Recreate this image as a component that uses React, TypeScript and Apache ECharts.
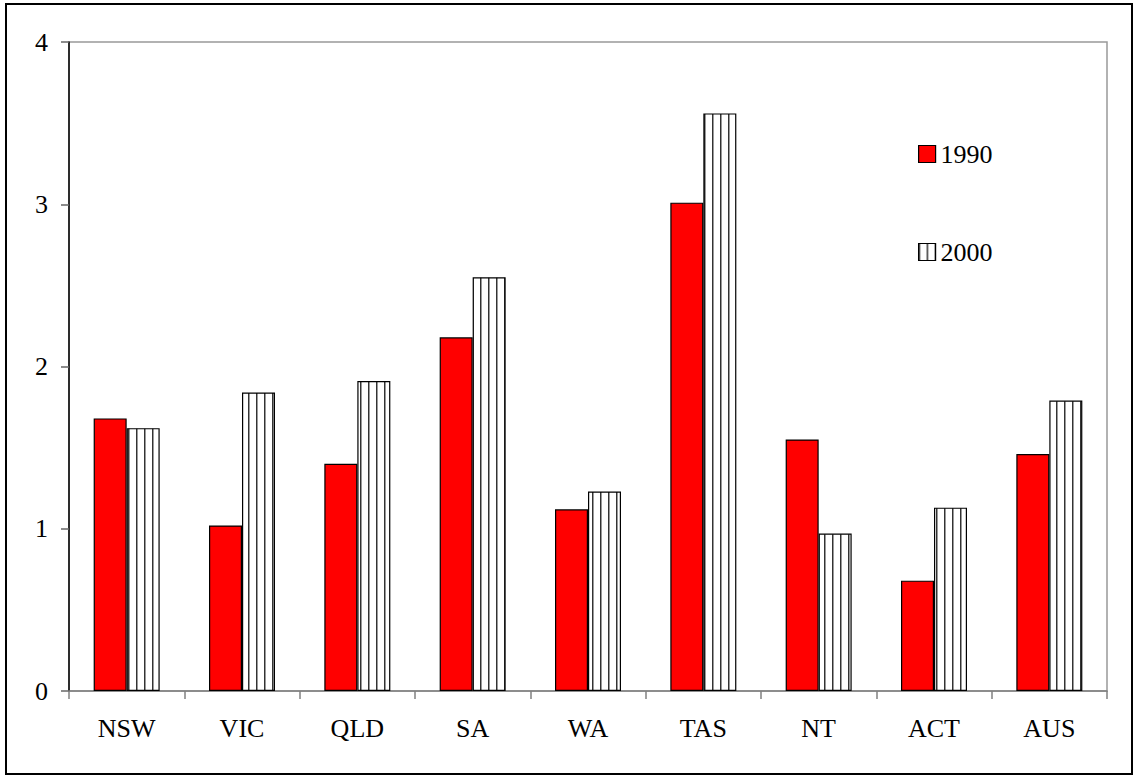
import React, { useEffect, useRef } from "react";
import * as echarts from "echarts";

const categories = ["NSW", "VIC", "QLD", "SA", "WA", "TAS", "NT", "ACT", "AUS"];
const values1990 = [1.68, 1.02, 1.4, 2.18, 1.12, 3.01, 1.55, 0.68, 1.46];
const values2000 = [1.62, 1.84, 1.91, 2.55, 1.23, 3.56, 0.97, 1.13, 1.79];
const seriesNames = ["1990", "2000"];
const yTicks = { min: 0, max: 4, interval: 1 };

const FONT = "Liberation Serif, Times New Roman, serif";

function makeStripePattern() {
  const c = document.createElement("canvas");
  c.width = 8;
  c.height = 8;
  const ctx = c.getContext("2d")!;
  ctx.fillStyle = "#ffffff";
  ctx.fillRect(0, 0, 8, 8);
  ctx.fillStyle = "#333333";
  ctx.fillRect(0, 0, 1, 8);
  ctx.fillStyle = "#999999";
  ctx.fillRect(1, 0, 1, 8);
  return { image: c, repeat: "repeat", imageWidth: 8, imageHeight: 8 } as any;
}

export default function App() {
  const ref = useRef<HTMLDivElement>(null);
  useEffect(() => {
    if (!ref.current) return;
    const chart = echarts.init(ref.current, undefined, { renderer: "svg" });
    const stripe = makeStripePattern();
    chart.setOption({
      animation: false,
      backgroundColor: "#ffffff",
      textStyle: { fontFamily: FONT },
      grid: {
        left: 69,
        right: 28,
        top: 42,
        bottom: 86,
        show: true,
        borderColor: "#999999",
        borderWidth: 1.5,
        backgroundColor: "transparent",
      },
      legend: {
        orient: "vertical",
        left: 913,
        top: 136,
        itemGap: 72,
        itemWidth: 17,
        itemHeight: 17,
        icon: "rect",
        textStyle: { fontFamily: FONT, fontSize: 26, color: "#000" },
        data: [
          { name: seriesNames[0], itemStyle: { color: "#ff0000", borderColor: "#000", borderWidth: 1.2 } },
          { name: seriesNames[1], itemStyle: { color: stripe, borderColor: "#000", borderWidth: 1.2 } },
        ],
      },
      xAxis: {
        type: "category",
        data: categories,
        axisLine: { lineStyle: { color: "#808080", width: 1.5 } },
        axisTick: { show: true, length: 8, lineStyle: { color: "#808080", width: 1.5 } },
        axisLabel: { fontFamily: FONT, fontSize: 26, color: "#000", margin: 24 },
        splitLine: { show: false },
      },
      yAxis: {
        type: "value",
        min: yTicks.min,
        max: yTicks.max,
        interval: yTicks.interval,
        axisLine: { show: true, lineStyle: { color: "#000", width: 1.5 } },
        axisTick: { show: true, length: 8, lineStyle: { color: "#666", width: 1.5 } },
        axisLabel: { fontFamily: FONT, fontSize: 26, color: "#000", margin: 21 },
        splitLine: { show: false },
      },
      series: [
        {
          name: seriesNames[0],
          type: "bar",
          data: values1990,
          barWidth: 33,
          barGap: "0%",
          itemStyle: { color: "#ff0000", borderColor: "#000", borderWidth: 1.2 },
        },
        {
          name: seriesNames[1],
          type: "bar",
          data: values2000,
          barWidth: 33,
          barGap: "0%",
          itemStyle: { color: stripe, borderColor: "#000", borderWidth: 1.2 },
        },
      ],
      graphic: [
        {
          type: "rect",
          shape: { x: 6, y: 4, width: 1126, height: 770 },
          style: { fill: "none", stroke: "#000", lineWidth: 2 },
          silent: true,
        },
      ],
    });
    return () => chart.dispose();
  }, []);
  return (
    <div
      ref={ref}
      style={{ position: "fixed", left: 0, top: 0, width: 1135, height: 777, background: "#fff" }}
    />
  );
}
